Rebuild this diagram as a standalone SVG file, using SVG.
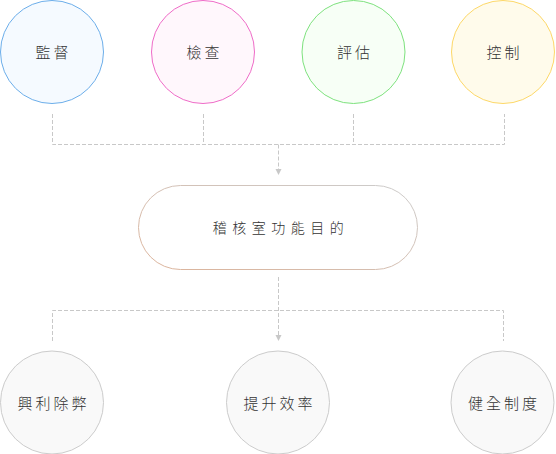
<svg xmlns="http://www.w3.org/2000/svg" width="556" height="454" viewBox="0 0 556 454">
<style>
.t{font-family:"Noto Sans CJK TC","Noto Sans CJK SC",sans-serif;font-size:15px;font-weight:300;fill:#333;text-anchor:middle;letter-spacing:3px}
.ln{fill:none;stroke:#c8c8c8;stroke-width:1;stroke-dasharray:4 2}
.bc{fill:#f9f9f9;stroke:#cccccc;stroke-width:1}
.ah{fill:#c8c8c8}
</style>
<defs>
<linearGradient id="pg" x1="0" y1="1" x2="1" y2="0">
<stop offset="0" stop-color="#dcb39a"/>
<stop offset="1" stop-color="#cccccc"/>
</linearGradient>
</defs>
<g id="connectors">
<path class="ln" d="M52.5,114 V144.5 H504.5 V114 M203.5,114 V144.5 M353.5,114 V144.5"/>
<path class="ln" d="M278.5,144.5 V170"/>
<path class="ah" d="M275.5,169 L281.5,169 L278.5,175 Z"/>
<path class="ln" d="M278.5,277 V336"/>
<path class="ah" d="M275.5,335 L281.5,335 L278.5,341 Z"/>
<path class="ln" d="M52.5,341 V310.5 H503.5 V341"/>
</g>
<g id="n1"><circle cx="52" cy="52" r="51.5" fill="#f5faff" stroke="#6caeea"/><text class="t" x="53.5" y="58">監督</text></g>
<g id="n2"><circle cx="203" cy="52" r="51.5" fill="#fff7fc" stroke="#ef6cc8"/><text class="t" x="204.5" y="58">檢查</text></g>
<g id="n3"><circle cx="353.5" cy="52" r="51.5" fill="#f7fff6" stroke="#7ee27e"/><text class="t" x="355" y="58">評估</text></g>
<g id="n4"><circle cx="503" cy="52" r="51.5" fill="#fffbeb" stroke="#fdd868"/><text class="t" x="504.5" y="58">控制</text></g>
<g id="center"><rect x="138.5" y="185.5" width="279" height="84" rx="42" fill="#ffffff" stroke="url(#pg)"/><text class="t" x="281" y="233" style="font-size:14px;letter-spacing:5.5px">稽核室功能目的</text></g>
<g id="b1"><circle class="bc" cx="52" cy="402.5" r="51.5"/><text class="t" x="53.5" y="409">興利除弊</text></g>
<g id="b2"><circle class="bc" cx="278" cy="402.5" r="51.5"/><text class="t" x="279.5" y="409">提升效率</text></g>
<g id="b3"><circle class="bc" cx="502.5" cy="402.5" r="51.5"/><text class="t" x="504" y="409">健全制度</text></g>
</svg>
